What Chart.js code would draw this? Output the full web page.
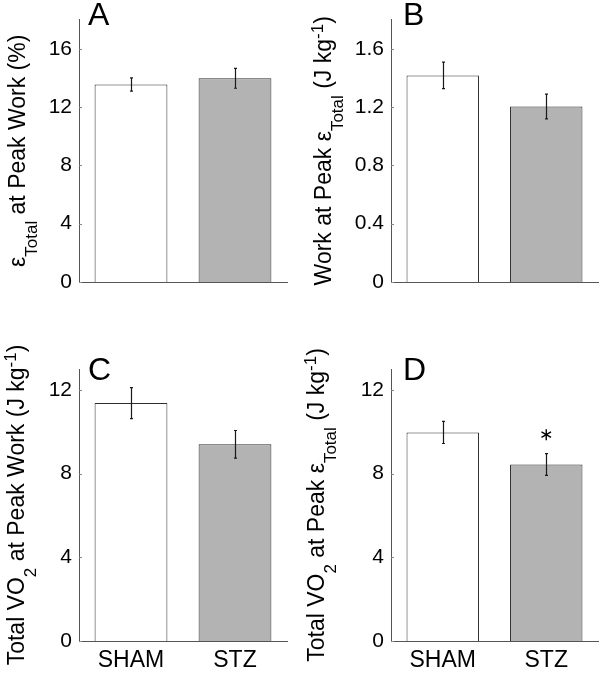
<!DOCTYPE html>
<html>
<head>
<meta charset="utf-8">
<script src="https://cdn.jsdelivr.net/npm/chart.js@4.4.1/dist/chart.umd.min.js"></script>
<style>
html, body { margin: 0; padding: 0; background: #fff; }
#wrap { position: relative; width: 600px; height: 674px; }
#wrap canvas { position: absolute; }
</style>
</head>
<body>
<div id="wrap">
  <canvas id="pA" width="300" height="337" style="left:0;top:0"></canvas>
  <canvas id="pB" width="300" height="337" style="left:300px;top:0"></canvas>
  <canvas id="pC" width="300" height="337" style="left:0;top:337px"></canvas>
  <canvas id="pD" width="300" height="337" style="left:300px;top:337px"></canvas>
</div>
<script>
const groups = ['SHAM', 'STZ'];

// A: strain at peak work (%)
const strainMean = [13.55, 13.97];
const strainSem = [0.45, 0.68];
// B: work at peak strain (J/kg)
const workMean = [1.417, 1.204];
const workSem = [0.091, 0.085];
// C: total VO2 at peak work
const vo2WorkMean = [11.37, 9.40];
const vo2WorkSem = [0.74, 0.66];
// D: total VO2 at peak strain
const vo2StrainMean = [9.97, 8.44];
const vo2StrainSem = [0.53, 0.52];
const vo2StrainSig = [false, true];

const ticksA = [0, 4, 8, 12, 16];
const ticksB = [0, 0.4, 0.8, 1.2, 1.6];
const ticksCD = [0, 4, 8, 12];

const FF = '"Liberation Sans", Arial, Helvetica, sans-serif';
const barFill = ['#ffffff', '#b3b3b3'];

function drawRich(ctx, segs, x, cy) {
  const fonts = { n: '23px ' + FF, sub: '17px ' + FF, sup: '17px ' + FF };
  const dy = { n: 0, sub: 12, sup: -8 };
  ctx.save();
  ctx.translate(x, cy);
  ctx.rotate(-Math.PI / 2);
  ctx.textAlign = 'left';
  ctx.textBaseline = 'alphabetic';
  ctx.fillStyle = '#000';
  let total = 0;
  segs.forEach(s => { ctx.font = fonts[s[1]]; total += ctx.measureText(s[0]).width; });
  let cx = -total / 2;
  segs.forEach(s => {
    ctx.font = fonts[s[1]];
    ctx.fillText(s[0], cx, dy[s[1]]);
    cx += ctx.measureText(s[0]).width;
  });
  ctx.restore();
}

const extras = {
  id: 'extras',
  afterDatasetsDraw(chart, args, o) {
    const ctx = chart.ctx, y = chart.scales.y, area = chart.chartArea;
    const meta = chart.getDatasetMeta(0);
    ctx.save();
    // small inward ticks on the y axis
    ctx.strokeStyle = '#888';
    ctx.lineWidth = 1;
    o.ticks.forEach(v => {
      const py = Math.round(y.getPixelForValue(v)) + 0.5;
      ctx.beginPath();
      ctx.moveTo(area.left, py);
      ctx.lineTo(area.left + 3, py);
      ctx.stroke();
    });
    // error bars
    ctx.strokeStyle = '#1a1a1a';
    meta.data.forEach((bar, i) => {
      const x = Math.round(bar.x) + 0.5;
      const hi = y.getPixelForValue(o.mean[i] + o.sem[i]);
      const lo = y.getPixelForValue(o.mean[i] - o.sem[i]);
      ctx.lineWidth = 1.2;
      ctx.beginPath();
      ctx.moveTo(x, hi); ctx.lineTo(x, lo);
      ctx.moveTo(x - 1.5, hi); ctx.lineTo(x + 1.5, hi);
      ctx.moveTo(x - 1.5, lo); ctx.lineTo(x + 1.5, lo);
      ctx.stroke();
      if (o.sig && o.sig[i]) {
        const sy = y.getPixelForValue(o.mean[i] + o.sem[i] + o.starGap);
        const r = 5.5;
        ctx.lineWidth = 1.4;
        ctx.strokeStyle = '#000';
        ctx.beginPath();
        [90, 30, 150].forEach(a => {
          const rad = a * Math.PI / 180;
          ctx.moveTo(bar.x - r * Math.cos(rad), sy - r * Math.sin(rad));
          ctx.lineTo(bar.x + r * Math.cos(rad), sy + r * Math.sin(rad));
        });
        ctx.stroke();
      }
    });
    ctx.restore();
  },
  afterDraw(chart, args, o) {
    const ctx = chart.ctx, area = chart.chartArea;
    ctx.save();
    ctx.fillStyle = '#000';
    ctx.font = '32px ' + FF;
    ctx.textAlign = 'left';
    ctx.textBaseline = 'alphabetic';
    ctx.fillText(o.letter, area.left + o.letterDx, o.letterY);
    ctx.restore();
    drawRich(ctx, o.title, o.titleX, (area.top + area.bottom) / 2);
  }
};

function makePanel(id, p) {
  const b = p.box;
  return new Chart(document.getElementById(id), {
    type: 'bar',
    data: {
      labels: groups,
      datasets: [{
        data: p.mean,
        backgroundColor: barFill,
        borderColor: '#2e2e2e',
        borderWidth: 1,
        barPercentage: 0.7,
        categoryPercentage: 1
      }]
    },
    options: {
      responsive: false,
      animation: false,
      events: [],
      layout: { padding: { left: 0, right: 300 - b.right, top: b.top, bottom: 0 } },
      scales: {
        x: {
          grid: { display: false, drawTicks: false },
          border: { display: true, color: '#555', width: 1 },
          ticks: {
            display: p.showX,
            color: '#000',
            padding: 6,
            font: { family: FF, size: 23 }
          },
          afterFit: s => { s.height = 337 - b.bottom; }
        },
        y: {
          min: 0,
          max: p.max,
          grid: { display: false, drawTicks: false },
          border: { display: true, color: '#555', width: 1 },
          afterBuildTicks: s => { s.ticks = p.ticks.map(v => ({ value: v })); },
          ticks: {
            color: '#000',
            padding: 7,
            font: { family: FF, size: 21 },
            callback: v => String(v)
          },
          afterFit: s => { s.width = b.left; }
        }
      },
      plugins: {
        legend: { display: false },
        tooltip: { enabled: false },
        extras: {
          ticks: p.ticks,
          mean: p.mean,
          sem: p.sem,
          sig: p.sig,
          starGap: p.starGap || 0,
          letter: p.letter,
          letterDx: p.letterDx,
          letterY: p.letterY,
          title: p.title,
          titleX: p.titleX
        }
      }
    },
    plugins: [extras]
  });
}

makePanel('pA', {
  mean: strainMean, sem: strainSem, ticks: ticksA, max: 18,
  box: { left: 79, right: 287, top: 8, bottom: 282 },
  showX: false, letter: 'A', letterDx: 9, letterY: 25,
  title: [['\u03b5', 'n'], ['Total', 'sub'], [' at Peak Work (%)', 'n']], titleX: 25
});
makePanel('pB', {
  mean: workMean, sem: workSem, ticks: ticksB, max: 1.8,
  box: { left: 91, right: 298, top: 9, bottom: 282 },
  showX: false, letter: 'B', letterDx: 12, letterY: 25,
  title: [['Work at Peak \u03b5', 'n'], ['Total', 'sub'], [' (J kg', 'n'], ['-1', 'sup'], [')', 'n']], titleX: 31
});
makePanel('pC', {
  mean: vo2WorkMean, sem: vo2WorkSem, ticks: ticksCD, max: 13,
  box: { left: 79, right: 287, top: 32, bottom: 304 },
  showX: true, letter: 'C', letterDx: 9, letterY: 43,
  title: [['Total VO', 'n'], ['2', 'sub'], [' at Peak Work (J kg', 'n'], ['-1', 'sup'], [')', 'n']], titleX: 24
});
makePanel('pD', {
  mean: vo2StrainMean, sem: vo2StrainSem, sig: vo2StrainSig, starGap: 0.9, ticks: ticksCD, max: 13,
  box: { left: 91, right: 298, top: 32, bottom: 304 },
  showX: true, letter: 'D', letterDx: 12, letterY: 43,
  title: [['Total VO', 'n'], ['2', 'sub'], [' at Peak \u03b5', 'n'], ['Total', 'sub'], [' (J kg', 'n'], ['-1', 'sup'], [')', 'n']], titleX: 24
});
</script>
</body>
</html>
